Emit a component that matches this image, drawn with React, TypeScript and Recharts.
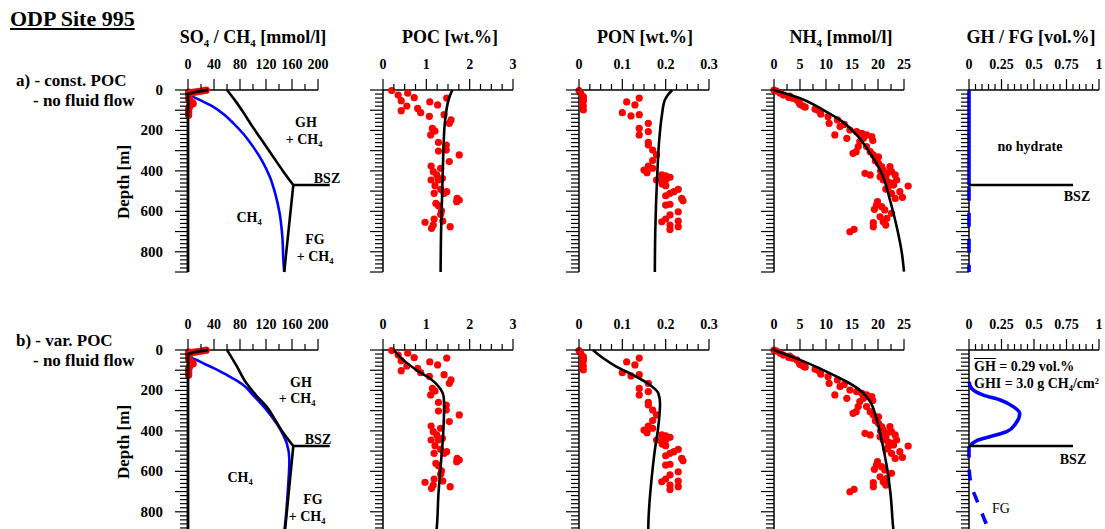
import { ComposedChart, Line, Scatter, XAxis, YAxis, ReferenceLine, ReferenceDot } from "recharts";

const FONT = '"Liberation Serif", "Times New Roman", serif';
const RED = "#ff0000";
const BLUE = "#0000ff";

type P = [number, number]; // [value, depth m]
const pts = (a: P[]) => a.map(([x, d]) => ({ x, d }));
const range = (step: number, max: number) =>
  Array.from({ length: Math.round(max / step) + 1 }, (_, i) => +(i * step).toFixed(4));

// ---- measured data (same in both rows) ----
const SO4_DATA: P[] = [[28, 1], [25, 3], [21, 5], [17, 7], [13, 9], [9, 11], [5, 14], [2, 17], [1, 20]];
const CH4_DATA: P[] = [[1, 10], [1, 25], [2, 35], [1, 45], [3, 55], [7, 62], [8, 68], [4, 75], [2, 85], [1, 95], [1, 105], [1, 115], [1, 125]];

const POC_DATA: P[] = [
  [0.2, 3], [0.35, 25], [0.57, 16], [0.42, 53], [0.72, 38], [0.55, 79], [0.42, 102], [0.8, 91], [0.87, 112],
  [1.08, 59], [1.26, 74], [1.47, 40], [1.07, 130], [1.41, 122], [1.57, 148], [1.53, 165], [1.14, 190], [1.2, 203],
  [1.1, 222], [1.28, 259], [1.46, 272], [1.46, 297], [1.28, 302], [1.76, 321], [1.53, 354], [1.11, 376], [1.33, 387],
  [1.16, 404], [1.24, 420], [1.37, 437], [1.11, 445], [1.28, 445], [1.2, 473], [1.33, 491], [1.47, 503], [1.18, 511],
  [1.41, 511], [1.71, 536], [1.76, 544], [1.7, 552], [1.22, 561], [1.28, 572], [1.35, 598], [1.33, 615], [1.38, 648],
  [0.97, 654], [1.18, 638], [1.12, 684], [1.16, 668], [1.55, 676],
];

const PON_DATA: P[] = [
  [0, 3], [0.004, 16], [0.01, 33], [0.01, 45], [0.01, 55], [0.008, 70], [0.01, 79], [0.01, 99],
  [0.139, 40], [0.11, 59], [0.129, 74], [0.1, 112], [0.12, 128], [0.139, 122], [0.16, 165], [0.139, 190],
  [0.16, 206], [0.139, 222], [0.16, 259], [0.16, 272], [0.17, 297], [0.179, 321], [0.17, 349], [0.16, 376],
  [0.17, 387], [0.15, 396], [0.157, 409], [0.191, 420], [0.2, 425], [0.21, 432], [0.179, 445], [0.191, 453],
  [0.2, 445], [0.192, 465], [0.2, 473], [0.229, 491], [0.219, 503], [0.21, 511], [0.2, 523], [0.237, 536],
  [0.24, 548], [0.21, 565], [0.2, 569], [0.229, 602], [0.21, 618], [0.2, 638], [0.191, 652], [0.229, 648],
  [0.21, 668], [0.229, 676], [0.21, 690],
];

const NH4_DATA: P[] = [
  [0, 0], [0.5, 5], [1.2, 16], [1.8, 25], [3, 30], [2.8, 36], [3.5, 40], [4.4, 49], [4.9, 66], [5, 72], [5.6, 79],
  [6, 85], [7.9, 95], [8.5, 100], [8.9, 107], [9, 120], [10.4, 132], [12.2, 148], [10.6, 165], [13.5, 170],
  [12.7, 181], [14.6, 198], [15.9, 206], [16.9, 214], [11.7, 222], [17.8, 222], [18.8, 231], [14, 239], [17.2, 239],
  [19, 250], [16.5, 255], [16.2, 280], [17.8, 280], [15.8, 305], [18.5, 305], [15.2, 313], [19.1, 321], [20.1, 330],
  [19.5, 350], [20.1, 363], [20.7, 379], [22.3, 379], [21, 396], [20.5, 400], [22.6, 404], [17.5, 412], [21.7, 412],
  [18.5, 420], [23.3, 420], [20.4, 429], [21.5, 430], [21, 445], [23.6, 445], [22, 455], [22.9, 461], [23, 470],
  [25.8, 475], [22, 478], [21.5, 490], [24.2, 503], [22.6, 511], [24.7, 531], [23.3, 536], [19.9, 552], [19.7, 569],
  [20.7, 577], [19.3, 590], [21.3, 593], [22.6, 610], [20.4, 627], [21.7, 635], [21, 651], [19.1, 656], [21.5, 668],
  [19.1, 676], [15.4, 689], [14.6, 701],
];

// ---- model curves, row a) const. POC ----
const SO4_MODEL: P[] = [[31, 0], [20, 5], [10, 11], [0, 20], [0, 900]];
const CH4_MODEL_A: P[] = [[0, 0], [0, 16], [18, 49], [39, 83], [55, 120], [70, 165], [86, 220], [100, 280], [114, 350], [126, 430], [134, 510], [141, 610], [145, 720], [147, 857], [148, 900]];
const GHSAT_A: P[] = [[60, 0], [72, 50], [85, 110], [99, 180], [115, 255], [131, 330], [146, 400], [162, 470]];
const FGSAT_A: P[] = [[162, 470], [148, 900]];
const BSZ_A: P[] = [[162, 470], [218, 470]];
const POC_MODEL_A: P[] = [[1.6, 0], [1.55, 25], [1.5, 60], [1.45, 120], [1.42, 180], [1.4, 260], [1.38, 400], [1.36, 550], [1.34, 700], [1.33, 900]];
const PON_MODEL_A: P[] = [[0.215, 0], [0.205, 25], [0.198, 50], [0.191, 130], [0.185, 250], [0.181, 400], [0.178, 550], [0.176, 700], [0.175, 900]];
const NH4_MODEL_A: P[] = [[0, 0], [5, 41], [9.5, 99], [12.7, 148], [15.9, 222], [18.5, 313], [20.7, 412], [22.3, 544], [23.6, 676], [24.6, 808], [25, 898]];
const GH_A: P[] = [[0, 0], [0, 470]];
const FG_A: P[] = [[0, 478], [0, 900]];
const GH_BSZ_A: P[] = [[0, 470], [0.8, 470]];

// ---- model curves, row b) var. POC ----
const CH4_MODEL_B: P[] = [[0, 0], [0, 8], [3, 33], [15, 52], [29, 74], [45, 98], [60, 124], [73, 148], [85, 173], [100, 223], [121, 297], [141, 387], [152, 462], [156, 544], [154, 676], [149, 874], [148, 900]];
const GHSAT_B: P[] = [[60, 0], [75, 80], [90, 165], [105, 225], [121, 280], [134, 345], [147, 412], [162, 475]];
const FGSAT_B: P[] = [[162, 475], [149, 900]];
const BSZ_B: P[] = [[162, 475], [218, 475]];
const POC_MODEL_B: P[] = [[0.25, 0], [0.47, 50], [0.78, 100], [1.08, 140], [1.32, 190], [1.4, 230], [1.41, 280], [1.39, 410], [1.33, 575], [1.28, 710], [1.24, 880], [1.23, 900]];
const PON_MODEL_B: P[] = [[0.032, 0], [0.056, 41], [0.087, 83], [0.125, 124], [0.164, 173], [0.183, 214], [0.187, 264], [0.183, 379], [0.175, 495], [0.168, 627], [0.162, 775], [0.16, 874], [0.16, 900]];
const NH4_MODEL_B: P[] = [[0, 0], [5, 49], [10.1, 107], [14, 157], [16.9, 206], [18.5, 256], [19.6, 330], [20.7, 445], [21.7, 577], [22.4, 709], [22.9, 874], [23, 900]];
const GH_B: P[] = [[0, 157], [0.02, 190], [0.11, 223], [0.24, 247], [0.34, 280], [0.39, 313], [0.36, 363], [0.29, 404], [0.16, 429], [0.06, 448], [0.01, 475]];
const FG_B: P[] = [[0, 478], [0, 560], [0.013, 659], [0.06, 742], [0.11, 824], [0.15, 890], [0.155, 900]];
const GH_BSZ_B: P[] = [[0, 475], [0.8, 475]];

// ---- axes ----
const SO4_LABELS = [0, 40, 80, 120, 160, 200];
const POC_LABELS = [0, 1, 2, 3];
const PON_LABELS = [0, 0.1, 0.2, 0.3];
const NH4_LABELS = [0, 5, 10, 15, 20, 25];
const GH_LABELS = [0, 0.25, 0.5, 0.75, 1];
const DEPTH_LABELS = [0, 200, 400, 600, 800];
const DEPTH_TICKS = range(20, 900);

const ROW_Y = [90, 350];
const COL_X = [188, 383, 579, 774, 969];
const PLOT_W = 130;
const PLOT_H = 182;
const AX_H = 50;
const AX_W = 60;
const Z = 650; // draw series above the axis lines

const near = (a: number[], v: number) => a.some((l) => Math.abs(l - v) < 1e-6);

const XTick = (props: any) => {
  const { x, y, payload, labels } = props;
  const major = near(labels, payload.value);
  return (
    <g>
      <line x1={x} x2={x} y1={y} y2={y - (major ? 11 : 6)} stroke="#000" strokeWidth={1.2} />
      {major && (
        <text x={x} y={y - 21} textAnchor="middle" fontFamily={FONT} fontWeight="bold" fontSize={14} fill="#000">
          {payload.value}
        </text>
      )}
    </g>
  );
};

const YTick = (props: any) => {
  const { x, y, payload, showLabels } = props;
  const v = payload.value;
  const major = v % 100 === 0;
  return (
    <g>
      <line x1={x} x2={x - (major ? 13 : 8)} y1={y} y2={y} stroke="#000" strokeWidth={1.2} />
      {showLabels && near(DEPTH_LABELS, v) && (
        <text x={x - 25} y={y + 5} textAnchor="end" fontFamily={FONT} fontWeight="bold" fontSize={15} fill="#000">
          {v}
        </text>
      )}
    </g>
  );
};

const Dot = (props: any) => <circle cx={props.cx} cy={props.cy} r={3.6} fill={RED} />;

// points inside the axis range go in a Scatter; the odd one beyond the axis end is a free dot
const dots = (data: P[], key: string, max: number) => [
  <Scatter key={key} data={pts(data.filter(([x]) => x <= max))} shape={Dot} zIndex={Z} isAnimationActive={false} />,
  ...data
    .filter(([x]) => x > max)
    .map(([x, d], i) => (
      <ReferenceDot key={key + i} x={x} y={d} r={3.6} fill={RED} stroke="none" ifOverflow="visible" zIndex={Z} />
    )),
];

const curve = (data: P[], key: string, color = "#000", width = 2.6, dash?: string, type: any = "monotoneY") => (
  <Line
    key={key}
    data={pts(data)}
    dataKey="d"
    type={type}
    stroke={color}
    strokeWidth={width}
    strokeDasharray={dash}
    dot={false}
    activeDot={false}
    zIndex={Z}
    isAnimationActive={false}
  />
);

// horizontal BSZ marker that runs past the end of the axis
const bsz = (seg: P[], key: string) => (
  <ReferenceLine
    key={key}
    segment={seg.map(([x, y]) => ({ x, y }))}
    stroke="#000"
    strokeWidth={2.6}
    ifOverflow="visible"
    zIndex={Z}
  />
);

function Panel({ col, row, max, step, labels, depthLabels = false, children }: any) {
  const left = COL_X[col];
  const top = ROW_Y[row];
  return (
    <div style={{ position: "absolute", left: left - AX_W, top: top - AX_H }}>
      <ComposedChart
        width={AX_W + PLOT_W + 70}
        height={AX_H + PLOT_H + 10}
        margin={{ top: 0, right: 70, bottom: 10, left: 0 }}
      >
        <XAxis
          type="number"
          dataKey="x"
          orientation="top"
          domain={[0, max]}
          ticks={range(step, max)}
          interval={0}
          height={AX_H}
          tickSize={0}
          tickMargin={0}
          tickLine={false}
          axisLine={{ stroke: "#000", strokeWidth: 1.5 }}
          tick={(p: any) => <XTick {...p} labels={labels} />}
        />
        <YAxis
          type="number"
          dataKey="d"
          reversed
          domain={[0, 900]}
          ticks={DEPTH_TICKS}
          interval={0}
          width={AX_W}
          tickSize={0}
          tickMargin={0}
          tickLine={false}
          axisLine={{ stroke: "#000", strokeWidth: 1.5 }}
          tick={(p: any) => <YTick {...p} showLabels={depthLabels} />}
        />
        {children}
      </ComposedChart>
    </div>
  );
}

const Sub = ({ children }: any) => (
  <span style={{ fontSize: "0.6em", position: "relative", top: "0.35em" }}>{children}</span>
);
const Sup = ({ children }: any) => (
  <span style={{ fontSize: "0.6em", position: "relative", top: "-0.45em" }}>{children}</span>
);

function Txt({ x, y, size = 14, bold = true, anchor = "center", children, style }: any) {
  const tx = anchor === "center" ? "-50%" : anchor === "end" ? "-100%" : "0";
  return (
    <div
      style={{
        position: "absolute",
        left: x,
        top: y,
        transform: `translate(${tx}, -50%)`,
        fontFamily: FONT,
        fontWeight: bold ? "bold" : "normal",
        fontSize: size,
        lineHeight: 1,
        whiteSpace: "nowrap",
        color: "#000",
        ...style,
      }}
    >
      {children}
    </div>
  );
}

function Row({ row }: { row: number }) {
  const a = row === 0;
  return (
    <>
      <Panel col={0} row={row} max={200} step={20} labels={SO4_LABELS} depthLabels>
        {curve(a ? CH4_MODEL_A : CH4_MODEL_B, "ch4", BLUE, 2.6)}
        {curve(a ? GHSAT_A : GHSAT_B, "ghsat", "#000", 2.6)}
        {curve(a ? FGSAT_A : FGSAT_B, "fgsat", "#000", 2.6, undefined, "linear")}
        {bsz(a ? BSZ_A : BSZ_B, "bsz")}
        {dots(SO4_DATA, "so4d", 200)}
        {dots(CH4_DATA, "ch4d", 200)}
        {curve(SO4_MODEL, "so4", "#000", 2.8, undefined, "linear")}
      </Panel>
      <Panel col={1} row={row} max={3} step={0.25} labels={POC_LABELS}>
        {dots(POC_DATA, "pocd", 3)}
        {curve(a ? POC_MODEL_A : POC_MODEL_B, "poc")}
      </Panel>
      <Panel col={2} row={row} max={0.3} step={0.025} labels={PON_LABELS}>
        {dots(PON_DATA, "pond", 0.3)}
        {curve(a ? PON_MODEL_A : PON_MODEL_B, "pon")}
      </Panel>
      <Panel col={3} row={row} max={25} step={2.5} labels={NH4_LABELS}>
        {dots(NH4_DATA, "nh4d", 25)}
        {curve(a ? NH4_MODEL_A : NH4_MODEL_B, "nh4")}
      </Panel>
      <Panel col={4} row={row} max={1} step={0.05} labels={GH_LABELS}>
        {curve(a ? GH_A : GH_B, "gh", BLUE, 3.6, undefined, a ? "linear" : "monotoneY")}
        {curve(a ? FG_A : FG_B, "fg", BLUE, 3.6, a ? "14 12" : "11 12", a ? "linear" : "monotoneY")}
        {curve(a ? GH_BSZ_A : GH_BSZ_B, "ghbsz", "#000", 2.6, undefined, "linear")}
      </Panel>
    </>
  );
}

export default function App() {
  return (
    <div style={{ position: "absolute", left: 0, top: 0, width: 1105, height: 529, overflow: "hidden", background: "#fff" }}>
      <Txt x={10} y={19} size={22} anchor="start" style={{ textDecoration: "underline" }}>ODP Site 995</Txt>

      <Txt x={253} y={37} size={18}>SO<Sub>4</Sub> / CH<Sub>4</Sub> [mmol/l]</Txt>
      <Txt x={450} y={37} size={18}>POC [wt.%]</Txt>
      <Txt x={645} y={37} size={18}>PON [wt.%]</Txt>
      <Txt x={841} y={37} size={18}>NH<Sub>4</Sub> [mmol/l]</Txt>
      <Txt x={1031} y={37} size={18}>GH / FG [vol.%]</Txt>

      <Txt x={16} y={80} size={17} anchor="start">a) - const. POC</Txt>
      <Txt x={33} y={100} size={17} anchor="start">- no fluid flow</Txt>
      <Txt x={16} y={340} size={17} anchor="start">b) - var. POC</Txt>
      <Txt x={33} y={360} size={17} anchor="start">- no fluid flow</Txt>

      <Txt x={123} y={182} size={17} style={{ transform: "translate(-50%, -50%) rotate(-90deg)" }}>Depth [m]</Txt>
      <Txt x={123} y={442} size={17} style={{ transform: "translate(-50%, -50%) rotate(-90deg)" }}>Depth [m]</Txt>

      <Row row={0} />
      <Row row={1} />

      {/* row a annotations */}
      <Txt x={306} y={123}>GH</Txt>
      <Txt x={304} y={140}>+ CH<Sub>4</Sub></Txt>
      <Txt x={327} y={179}>BSZ</Txt>
      <Txt x={249} y={218}>CH<Sub>4</Sub></Txt>
      <Txt x={315} y={240}>FG</Txt>
      <Txt x={315} y={257}>+ CH<Sub>4</Sub></Txt>
      <Txt x={1030} y={147}>no hydrate</Txt>
      <Txt x={1077} y={197}>BSZ</Txt>

      {/* row b annotations */}
      <Txt x={301} y={383}>GH</Txt>
      <Txt x={297} y={399}>+ CH<Sub>4</Sub></Txt>
      <Txt x={318} y={440}>BSZ</Txt>
      <Txt x={240} y={478}>CH<Sub>4</Sub></Txt>
      <Txt x={313} y={500}>FG</Txt>
      <Txt x={307} y={517}>+ CH<Sub>4</Sub></Txt>
      <Txt x={974} y={367} anchor="start">
        <span style={{ textDecoration: "overline" }}>GH</span> = 0.29 vol.%
      </Txt>
      <Txt x={974} y={384} anchor="start">GHI = 3.0 g CH<Sub>4</Sub>/cm<Sup>2</Sup></Txt>
      <Txt x={1073} y={460}>BSZ</Txt>
      <Txt x={1001} y={509} bold={false}>FG</Txt>
    </div>
  );
}
